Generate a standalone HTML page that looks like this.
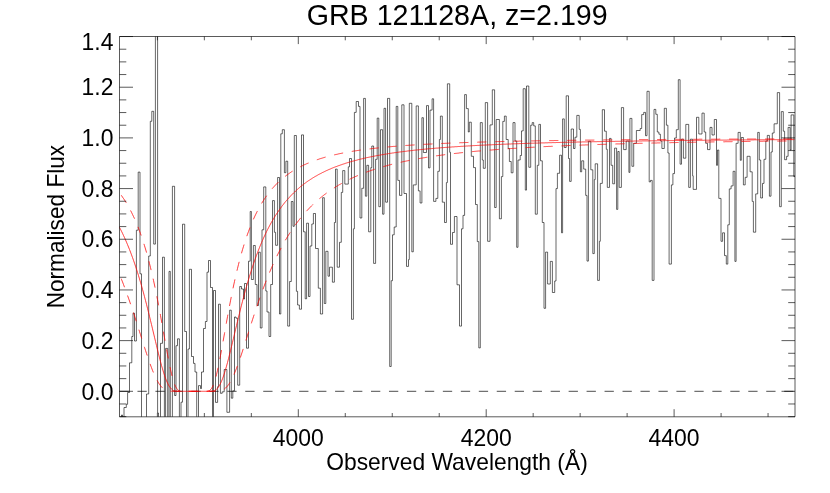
<!DOCTYPE html><html><head><meta charset="utf-8"><title>GRB 121128A</title>
<style>html,body{margin:0;padding:0;background:#fff}svg{display:block;will-change:transform}text{font-family:"Liberation Sans",sans-serif;fill:#000}</style>
</head><body><svg width="830" height="493" viewBox="0 0 830 493">
<rect width="830" height="493" fill="#fff"/>
<defs><clipPath id="c"><rect x="119.5" y="36.5" width="675.5" height="380.3"/></clipPath></defs>
<path d="M119.50 430.00H121.50V415.00H122.50V430.00H124.00V407.50H126.30V404.30H127.60V392.50H129.50V362.80H131.80V336.50H133.00V313.20H134.50V341.00H136.40V230.20H138.20V172.10H140.00V273.80H141.50V430.00H146.50V394.00H148.70V256.00H150.30V121.30H151.80V111.30H153.70V244.10H155.40V20.00H157.60V413.00H158.50V430.00H160.50V343.30H162.50V257.20H164.40V430.00H165.60V348.40H167.70V430.00H169.00V271.40H170.30V430.00H172.40V186.30H174.60V395.50H176.00V345.70H177.50V338.80H179.40V430.00H181.00V402.20H182.50V224.20H184.70V331.50H186.50V430.00H188.00V349.00H189.40V269.30H191.50V356.50H193.50V363.40H195.00V372.00H196.70V430.00H198.50V385.60H200.50V388.50H201.50V372.00H203.50V328.50H205.40V321.50H207.00V272.20H208.50V260.50H210.50V287.50H212.50V430.00H213.50V290.50H215.50V402.40H217.60V386.70H218.50V304.20H220.40V393.30H222.20V391.80H224.20V369.50H226.90V412.30H229.60V310.20H231.30V398.20H232.80V390.80H234.50V317.00H236.00V318.20H237.70V385.20H239.70V286.50H241.50V289.00H243.50V299.00H244.50V283.50H246.50V348.20H248.50V261.20H250.20V211.50H251.40V279.50H253.40V245.50H255.30V284.50H257.00V305.50H258.50V252.20H260.30V328.00H262.00V229.80H263.70V186.90H265.80V291.00H267.00V312.00H269.00V336.50H270.70V284.50H272.50V200.60H274.40V232.30H275.60V245.30H277.60V177.50H279.50V314.00H280.80V133.80H282.30V129.70H284.40V172.70H285.90V161.20H287.70V326.10H289.60V281.50H291.30V201.50H293.00V226.30H294.30V135.50H296.40V291.30H297.60V305.00H299.40V309.20H301.50V134.90H303.50V231.80H305.20V298.80H306.60V223.20H308.50V296.50H310.00V246.00H311.80V224.00H313.40V213.50H315.50V248.50H318.30V288.20H320.40V314.00H322.60V197.70H324.30V303.50H325.80V251.30H328.00V276.20H329.50V267.20H332.40V282.20H334.40V222.50H335.50V169.10H337.20V267.20H339.50V242.30H341.30V192.40H342.70V170.60H344.80V184.10H348.30V166.80H349.50V158.50H351.50V319.30H353.40V228.80H354.40V112.40H356.20V101.50H358.50V106.40H360.00V218.00H361.80V188.30H363.60V98.40H365.40V196.20H366.80V165.30H368.60V231.80H370.80V167.60H371.80V146.00H373.60V263.40H375.60V159.30H377.20V118.10H378.80V206.70H380.50V129.70H382.60V214.20H384.00V108.30H385.60V202.20H387.50V98.40H389.70V366.50H391.20V280.70H392.50V234.80H394.20V227.00H396.20V106.40H397.80V180.40H399.50V195.40H401.80V104.80H404.00V193.50H406.50V266.40H408.50V259.60H409.30V103.30H411.80V251.80H413.30V184.90H416.20V105.90H418.40V190.90H420.10V203.00H421.90V117.70H423.40V152.50H426.50V105.60H428.50V167.90H430.00V110.10H432.10V98.80H433.60V201.40H435.90V198.40H437.80V171.30H439.40V139.50H440.40V116.10H442.30V202.20H444.50V222.50H446.40V182.60H447.40V83.80H449.70V152.30H450.50V244.30H452.50V232.50H454.40V216.50H457.00V284.80H459.50V326.10H461.50V228.80H463.00V215.40H464.60V94.60H466.40V108.60H468.30V132.00H469.30V122.20H471.30V156.30H473.50V167.60H475.50V204.50H477.30V241.60H478.80V347.90H480.30V122.60H482.30V160.00H483.30V168.30H485.30V102.60H487.60V241.30H490.00V124.90H492.30V89.80H494.60V207.50H496.20V119.50H499.40V218.80H501.40V176.60H502.80V121.40H504.40V116.10H506.20V139.50H508.20V148.50H509.40V161.50H511.20V172.80H513.00V122.60H515.00V141.00H516.70V247.30H518.00V160.00H520.20V155.50H521.50V130.90H523.20V88.70H525.30V190.10H526.50V86.00H528.80V167.30H530.70V125.20H532.20V122.60H533.70V125.90H535.30V214.20H537.30V165.30H538.80V124.40H540.50V160.80H542.30V222.50H544.00V308.30H545.60V252.10H547.60V284.00H550.30V261.40H552.40V292.50H554.70V281.00H556.00V188.60H557.40V173.30H559.60V155.20H561.50V232.80H562.60V118.90H564.30V147.50H566.20V95.80H568.50V158.50H569.60V181.40H571.20V129.00H573.50V148.50H575.00V137.20H576.80V115.40H579.20V129.40H580.40V171.80H581.70V160.80H583.70V169.10H585.70V195.40H587.00V261.10H588.40V141.30H590.80V169.80H592.80V253.60H594.30V179.60H595.20V163.80H597.60V280.40H599.40V241.30H600.30V183.40H602.30V109.70H604.50V131.20H606.30V149.30H607.30V187.40H609.50V138.40H611.10V165.30H612.70V183.80H614.60V148.10H616.60V209.40H617.80V151.50H619.20V187.40H621.40V107.60H623.60V149.60H626.20V141.00H628.90V172.40H629.90V118.40H631.90V166.30H633.70V143.30H636.40V130.50H640.20V128.50H641.70V114.60H643.70V112.40H645.50V135.70H647.00V91.30H649.20V181.90H650.50V180.40H652.20V280.40H654.00V109.40H655.80V114.30H657.30V132.00H658.90V134.20H660.40V141.00H661.90V148.50H664.30V108.30H666.40V125.20H667.90V153.00H669.10V264.10H671.40V184.90H672.90V173.60H674.50V138.00H676.30V129.70H678.30V79.70H680.10V164.20H681.50V139.20H683.40V158.20H685.80V124.40H688.70V187.40H690.40V139.20H692.60V175.80H693.20V189.40H696.50V117.30H698.80V134.00H702.00V113.10H704.20V132.00H705.70V143.30H707.50V149.60H710.00V127.40H712.00V135.00H714.30V119.50H716.50V165.30H717.50V150.00H718.80V198.40H721.00V241.30H722.60V232.80H724.50V255.60H726.30V264.10H727.80V224.80H729.30V188.90H731.10V185.90H733.10V171.30H734.90V261.40H736.10V143.30H738.10V132.40H740.30V160.30H741.30V137.50H743.40V184.90H745.20V177.30H747.10V156.30H750.10V171.80H752.20V201.40H753.40V232.20H755.70V193.90H757.70V132.40H759.30V160.00H760.70V198.00H762.50V183.40H764.00V159.30H765.80V141.00H767.30V135.40H769.40V196.20H771.00V152.00H772.30V133.00H774.10V123.80H777.30V92.60H779.60V206.70H781.30V111.60H783.30V131.20H784.60V159.70H786.60V156.30H788.10V127.40H790.10V150.00H791.10V114.90H793.80V176.60H795.00V176.60H795.0" fill="none" stroke="#000" stroke-width="0.6" clip-path="url(#c)" stroke-linejoin="miter"/>
<path d="M119.5 391.30H795.0" stroke="#000" stroke-width="0.7" stroke-dasharray="9.3 8.665" fill="none"/>
<path d="M119.5 227.4 L120.5 229.3 L121.5 231.3 L122.5 233.3 L123.5 235.5 L124.5 237.6 L125.5 239.9 L126.5 242.2 L127.5 244.6 L128.5 247.0 L129.5 249.5 L130.5 252.1 L131.5 254.8 L132.5 257.5 L133.5 260.3 L134.5 263.2 L135.5 266.2 L136.5 269.2 L137.5 272.4 L138.5 275.6 L139.5 278.9 L140.5 282.3 L141.5 285.7 L142.5 289.3 L143.5 292.9 L144.5 296.7 L145.5 300.5 L146.5 304.3 L147.5 308.3 L148.5 312.3 L149.5 316.3 L150.5 320.5 L151.5 324.6 L152.5 328.8 L153.5 333.0 L154.5 337.2 L155.5 341.4 L156.5 345.6 L157.5 349.8 L158.5 353.8 L159.5 357.8 L160.5 361.7 L161.5 365.4 L162.5 368.9 L163.5 372.2 L164.5 375.3 L165.5 378.2 L166.5 380.8 L167.5 383.0 L168.5 385.0 L169.5 386.7 L170.5 388.0 L171.5 389.1 L172.5 389.9 L173.5 390.5 L174.5 390.8 L175.5 391.1 L176.5 391.2 L177.5 391.3 L178.5 391.3 L179.5 391.3 L180.5 391.3 L181.5 391.3 L182.5 391.3 L183.5 391.3 L184.5 391.3 L185.5 391.3 L186.5 391.3 L187.5 391.3 L188.5 391.3 L189.5 391.3 L190.5 391.3 L191.5 391.3 L192.5 391.3 L193.5 391.3 L194.5 391.3 L195.5 391.3 L196.5 391.3 L197.5 391.3 L198.5 391.3 L199.5 391.3 L200.5 391.3 L201.5 391.3 L202.5 391.3 L203.5 391.3 L204.5 391.3 L205.5 391.3 L206.5 391.3 L207.5 391.3 L208.5 391.3 L209.5 391.3 L210.5 391.3 L211.5 391.2 L212.5 391.1 L213.5 390.9 L214.5 390.6 L215.5 390.0 L216.5 389.3 L217.5 388.3 L218.5 387.0 L219.5 385.4 L220.5 383.5 L221.5 381.3 L222.5 378.8 L223.5 376.0 L224.5 372.9 L225.5 369.6 L226.5 366.2 L227.5 362.5 L228.5 358.7 L229.5 354.7 L230.5 350.7 L231.5 346.5 L232.5 342.4 L233.5 338.2 L234.5 333.9 L235.5 329.7 L236.5 325.5 L237.5 321.4 L238.5 317.2 L239.5 313.2 L240.5 309.1 L241.5 305.2 L242.5 301.3 L243.5 297.5 L244.5 293.7 L245.5 290.1 L246.5 286.5 L247.5 283.0 L248.5 279.6 L249.5 276.3 L250.5 273.1 L251.5 269.9 L252.5 266.8 L253.5 263.8 L254.5 260.9 L255.5 258.1 L256.5 255.3 L257.5 252.7 L258.5 250.1 L259.5 247.5 L260.5 245.1 L261.5 242.7 L262.5 240.4 L263.5 238.1 L264.5 235.9 L265.5 233.8 L266.5 231.7 L267.5 229.7 L268.5 227.8 L269.5 225.9 L270.5 224.0 L271.5 222.2 L272.5 220.5 L273.5 218.8 L274.5 217.1 L275.5 215.5 L276.5 214.0 L277.5 212.5 L278.5 211.0 L279.5 209.6 L280.5 208.2 L281.5 206.8 L282.5 205.5 L283.5 204.2 L284.5 202.9 L285.5 201.7 L286.5 200.5 L287.5 199.4 L288.5 198.3 L289.5 197.2 L290.5 196.1 L291.5 195.0 L292.5 194.0 L293.5 193.0 L294.5 192.1 L295.5 191.1 L296.5 190.2 L297.5 189.3 L298.5 188.4 L299.5 187.6 L300.5 186.7 L301.5 185.9 L302.5 185.1 L303.5 184.4 L304.5 183.6 L305.5 182.9 L306.5 182.1 L307.5 181.4 L308.5 180.7 L309.5 180.1 L310.5 179.4 L311.5 178.8 L312.5 178.1 L313.5 177.5 L314.5 176.9 L315.5 176.3 L316.5 175.8 L317.5 175.2 L318.5 174.6 L319.5 174.1 L320.5 173.6 L321.5 173.1 L322.5 172.5 L323.5 172.1 L324.5 171.6 L325.5 171.1 L326.5 170.6 L327.5 170.2 L328.5 169.7 L329.5 169.3 L330.5 168.9 L331.5 168.4 L332.5 168.0 L333.5 167.6 L334.5 167.2 L335.5 166.8 L336.5 166.5 L337.5 166.1 L338.5 165.7 L339.5 165.4 L340.5 165.0 L341.5 164.7 L342.5 164.3 L343.5 164.0 L344.5 163.7 L345.5 163.3 L346.5 163.0 L347.5 162.7 L348.5 162.4 L349.5 162.1 L350.5 161.8 L351.5 161.5 L352.5 161.2 L353.5 161.0 L354.5 160.7 L355.5 160.4 L356.5 160.2 L357.5 159.9 L358.5 159.6 L359.5 159.4 L360.5 159.1 L361.5 158.9 L362.5 158.7 L363.5 158.4 L364.5 158.2 L365.5 158.0 L366.5 157.7 L367.5 157.5 L368.5 157.3 L369.5 157.1 L370.5 156.9 L371.5 156.7 L372.5 156.5 L373.5 156.3 L374.5 156.1 L375.5 155.9 L376.5 155.7 L377.5 155.5 L378.5 155.3 L379.5 155.2 L380.5 155.0 L381.5 154.8 L382.5 154.6 L383.5 154.5 L384.5 154.3 L385.5 154.1 L386.5 154.0 L387.5 153.8 L388.5 153.6 L389.5 153.5 L390.5 153.3 L391.5 153.2 L392.5 153.0 L393.5 152.9 L394.5 152.7 L395.5 152.6 L396.5 152.5 L397.5 152.3 L398.5 152.2 L399.5 152.0 L400.5 151.9 L401.5 151.8 L402.5 151.7 L403.5 151.5 L404.5 151.4 L405.5 151.3 L406.5 151.2 L407.5 151.0 L408.5 150.9 L409.5 150.8 L410.5 150.7 L411.5 150.6 L412.5 150.5 L413.5 150.3 L414.5 150.2 L415.5 150.1 L416.5 150.0 L417.5 149.9 L418.5 149.8 L419.5 149.7 L420.5 149.6 L421.5 149.5 L422.5 149.4 L423.5 149.3 L424.5 149.2 L425.5 149.1 L426.5 149.0 L427.5 148.9 L428.5 148.8 L429.5 148.7 L430.5 148.7 L431.5 148.6 L432.5 148.5 L433.5 148.4 L434.5 148.3 L435.5 148.2 L436.5 148.1 L437.5 148.1 L438.5 148.0 L439.5 147.9 L440.5 147.8 L441.5 147.7 L442.5 147.7 L443.5 147.6 L444.5 147.5 L445.5 147.4 L446.5 147.4 L447.5 147.3 L448.5 147.2 L449.5 147.1 L450.5 147.1 L451.5 147.0 L452.5 146.9 L453.5 146.9 L454.5 146.8 L455.5 146.7 L456.5 146.7 L457.5 146.6 L458.5 146.5 L459.5 146.5 L460.5 146.4 L461.5 146.3 L462.5 146.3 L463.5 146.2 L464.5 146.2 L465.5 146.1 L466.5 146.0 L467.5 146.0 L468.5 145.9 L469.5 145.9 L470.5 145.8 L471.5 145.8 L472.5 145.7 L473.5 145.6 L474.5 145.6 L475.5 145.5 L476.5 145.5 L477.5 145.4 L478.5 145.4 L479.5 145.3 L480.5 145.3 L481.5 145.2 L482.5 145.2 L483.5 145.1 L484.5 145.1 L485.5 145.0 L486.5 145.0 L487.5 144.9 L488.5 144.9 L489.5 144.8 L490.5 144.8 L491.5 144.8 L492.5 144.7 L493.5 144.7 L494.5 144.6 L495.5 144.6 L496.5 144.5 L497.5 144.5 L498.5 144.4 L499.5 144.4 L500.5 144.4 L501.5 144.3 L502.5 144.3 L503.5 144.2 L504.5 144.2 L505.5 144.2 L506.5 144.1 L507.5 144.1 L508.5 144.0 L509.5 144.0 L510.5 144.0 L511.5 143.9 L512.5 143.9 L513.5 143.8 L514.5 143.8 L515.5 143.8 L516.5 143.7 L517.5 143.7 L518.5 143.7 L519.5 143.6 L520.5 143.6 L521.5 143.6 L522.5 143.5 L523.5 143.5 L524.5 143.5 L525.5 143.4 L526.5 143.4 L527.5 143.4 L528.5 143.3 L529.5 143.3 L530.5 143.3 L531.5 143.2 L532.5 143.2 L533.5 143.2 L534.5 143.1 L535.5 143.1 L536.5 143.1 L537.5 143.1 L538.5 143.0 L539.5 143.0 L540.5 143.0 L541.5 142.9 L542.5 142.9 L543.5 142.9 L544.5 142.9 L545.5 142.8 L546.5 142.8 L547.5 142.8 L548.5 142.7 L549.5 142.7 L550.5 142.7 L551.5 142.7 L552.5 142.6 L553.5 142.6 L554.5 142.6 L555.5 142.6 L556.5 142.5 L557.5 142.5 L558.5 142.5 L559.5 142.5 L560.5 142.4 L561.5 142.4 L562.5 142.4 L563.5 142.4 L564.5 142.3 L565.5 142.3 L566.5 142.3 L567.5 142.3 L568.5 142.2 L569.5 142.2 L570.5 142.2 L571.5 142.2 L572.5 142.2 L573.5 142.1 L574.5 142.1 L575.5 142.1 L576.5 142.1 L577.5 142.0 L578.5 142.0 L579.5 142.0 L580.5 142.0 L581.5 142.0 L582.5 141.9 L583.5 141.9 L584.5 141.9 L585.5 141.9 L586.5 141.9 L587.5 141.8 L588.5 141.8 L589.5 141.8 L590.5 141.8 L591.5 141.8 L592.5 141.7 L593.5 141.7 L594.5 141.7 L595.5 141.7 L596.5 141.7 L597.5 141.6 L598.5 141.6 L599.5 141.6 L600.5 141.6 L601.5 141.6 L602.5 141.6 L603.5 141.5 L604.5 141.5 L605.5 141.5 L606.5 141.5 L607.5 141.5 L608.5 141.5 L609.5 141.4 L610.5 141.4 L611.5 141.4 L612.5 141.4 L613.5 141.4 L614.5 141.4 L615.5 141.3 L616.5 141.3 L617.5 141.3 L618.5 141.3 L619.5 141.3 L620.5 141.3 L621.5 141.2 L622.5 141.2 L623.5 141.2 L624.5 141.2 L625.5 141.2 L626.5 141.2 L627.5 141.1 L628.5 141.1 L629.5 141.1 L630.5 141.1 L631.5 141.1 L632.5 141.1 L633.5 141.1 L634.5 141.0 L635.5 141.0 L636.5 141.0 L637.5 141.0 L638.5 141.0 L639.5 141.0 L640.5 141.0 L641.5 141.0 L642.5 140.9 L643.5 140.9 L644.5 140.9 L645.5 140.9 L646.5 140.9 L647.5 140.9 L648.5 140.9 L649.5 140.8 L650.5 140.8 L651.5 140.8 L652.5 140.8 L653.5 140.8 L654.5 140.8 L655.5 140.8 L656.5 140.8 L657.5 140.7 L658.5 140.7 L659.5 140.7 L660.5 140.7 L661.5 140.7 L662.5 140.7 L663.5 140.7 L664.5 140.7 L665.5 140.6 L666.5 140.6 L667.5 140.6 L668.5 140.6 L669.5 140.6 L670.5 140.6 L671.5 140.6 L672.5 140.6 L673.5 140.6 L674.5 140.5 L675.5 140.5 L676.5 140.5 L677.5 140.5 L678.5 140.5 L679.5 140.5 L680.5 140.5 L681.5 140.5 L682.5 140.5 L683.5 140.5 L684.5 140.4 L685.5 140.4 L686.5 140.4 L687.5 140.4 L688.5 140.4 L689.5 140.4 L690.5 140.4 L691.5 140.4 L692.5 140.4 L693.5 140.4 L694.5 140.3 L695.5 140.3 L696.5 140.3 L697.5 140.3 L698.5 140.3 L699.5 140.3 L700.5 140.3 L701.5 140.3 L702.5 140.3 L703.5 140.3 L704.5 140.2 L705.5 140.2 L706.5 140.2 L707.5 140.2 L708.5 140.2 L709.5 140.2 L710.5 140.2 L711.5 140.2 L712.5 140.2 L713.5 140.2 L714.5 140.2 L715.5 140.1 L716.5 140.1 L717.5 140.1 L718.5 140.1 L719.5 140.1 L720.5 140.1 L721.5 140.1 L722.5 140.1 L723.5 140.1 L724.5 140.1 L725.5 140.1 L726.5 140.1 L727.5 140.0 L728.5 140.0 L729.5 140.0 L730.5 140.0 L731.5 140.0 L732.5 140.0 L733.5 140.0 L734.5 140.0 L735.5 140.0 L736.5 140.0 L737.5 140.0 L738.5 140.0 L739.5 140.0 L740.5 139.9 L741.5 139.9 L742.5 139.9 L743.5 139.9 L744.5 139.9 L745.5 139.9 L746.5 139.9 L747.5 139.9 L748.5 139.9 L749.5 139.9 L750.5 139.9 L751.5 139.9 L752.5 139.9 L753.5 139.9 L754.5 139.8 L755.5 139.8 L756.5 139.8 L757.5 139.8 L758.5 139.8 L759.5 139.8 L760.5 139.8 L761.5 139.8 L762.5 139.8 L763.5 139.8 L764.5 139.8 L765.5 139.8 L766.5 139.8 L767.5 139.8 L768.5 139.8 L769.5 139.7 L770.5 139.7 L771.5 139.7 L772.5 139.7 L773.5 139.7 L774.5 139.7 L775.5 139.7 L776.5 139.7 L777.5 139.7 L778.5 139.7 L779.5 139.7 L780.5 139.7 L781.5 139.7 L782.5 139.7 L783.5 139.7 L784.5 139.7 L785.5 139.7 L786.5 139.6 L787.5 139.6 L788.5 139.6 L789.5 139.6 L790.5 139.6 L791.5 139.6 L792.5 139.6 L793.5 139.6 L794.5 139.6" fill="none" stroke="#ff0000" stroke-width="0.75"/>
<path d="M119.5 192.9 L120.5 194.3 L121.5 195.6 L122.5 197.1 L123.5 198.5 L124.5 200.0 L125.5 201.6 L126.5 203.2 L127.5 204.9 L128.5 206.7 L129.5 208.5 L130.5 210.4 L131.5 212.3 L132.5 214.4 L133.5 216.5 L134.5 218.6 L135.5 220.9 L136.5 223.3 L137.5 225.7 L138.5 228.2 L139.5 230.9 L140.5 233.6 L141.5 236.5 L142.5 239.4 L143.5 242.5 L144.5 245.7 L145.5 249.0 L146.5 252.4 L147.5 256.0 L148.5 259.7 L149.5 263.6 L150.5 267.6 L151.5 271.7 L152.5 276.0 L153.5 280.4 L154.5 285.0 L155.5 289.8 L156.5 294.6 L157.5 299.7 L158.5 304.8 L159.5 310.1 L160.5 315.5 L161.5 321.0 L162.5 326.5 L163.5 332.2 L164.5 337.8 L165.5 343.4 L166.5 348.9 L167.5 354.3 L168.5 359.6 L169.5 364.6 L170.5 369.3 L171.5 373.7 L172.5 377.6 L173.5 381.1 L174.5 384.0 L175.5 386.4 L176.5 388.2 L177.5 389.5 L178.5 390.4 L179.5 390.9 L180.5 391.1 L181.5 391.3 L182.5 391.3 L183.5 391.3 L184.5 391.3 L185.5 391.3 L186.5 391.3 L187.5 391.3 L188.5 391.3 L189.5 391.3 L190.5 391.3 L191.5 391.3 L192.5 391.3 L193.5 391.3 L194.5 391.3 L195.5 391.3 L196.5 391.3 L197.5 391.3 L198.5 391.3 L199.5 391.3 L200.5 391.3 L201.5 391.3 L202.5 391.3 L203.5 391.3 L204.5 391.3 L205.5 391.3 L206.5 391.3 L207.5 391.2 L208.5 390.9 L209.5 390.5 L210.5 389.7 L211.5 388.5 L212.5 386.8 L213.5 384.6 L214.5 381.8 L215.5 378.4 L216.5 374.6 L217.5 370.3 L218.5 365.7 L219.5 360.7 L220.5 355.5 L221.5 350.1 L222.5 344.6 L223.5 339.0 L224.5 333.4 L225.5 327.8 L226.5 322.2 L227.5 316.7 L228.5 311.3 L229.5 306.0 L230.5 300.8 L231.5 295.7 L232.5 290.8 L233.5 286.0 L234.5 281.4 L235.5 277.0 L236.5 272.6 L237.5 268.5 L238.5 264.4 L239.5 260.5 L240.5 256.8 L241.5 253.2 L242.5 249.7 L243.5 246.4 L244.5 243.2 L245.5 240.1 L246.5 237.1 L247.5 234.2 L248.5 231.5 L249.5 228.8 L250.5 226.2 L251.5 223.8 L252.5 221.4 L253.5 219.1 L254.5 216.9 L255.5 214.8 L256.5 212.8 L257.5 210.8 L258.5 208.9 L259.5 207.1 L260.5 205.3 L261.5 203.6 L262.5 202.0 L263.5 200.4 L264.5 198.8 L265.5 197.4 L266.5 195.9 L267.5 194.6 L268.5 193.2 L269.5 191.9 L270.5 190.7 L271.5 189.5 L272.5 188.3 L273.5 187.2 L274.5 186.1 L275.5 185.0 L276.5 184.0 L277.5 183.0 L278.5 182.0 L279.5 181.1 L280.5 180.2 L281.5 179.3 L282.5 178.5 L283.5 177.6 L284.5 176.8 L285.5 176.1 L286.5 175.3 L287.5 174.6 L288.5 173.9 L289.5 173.2 L290.5 172.5 L291.5 171.8 L292.5 171.2 L293.5 170.6 L294.5 170.0 L295.5 169.4 L296.5 168.8 L297.5 168.2 L298.5 167.7 L299.5 167.2 L300.5 166.7 L301.5 166.2 L302.5 165.7 L303.5 165.2 L304.5 164.7 L305.5 164.3 L306.5 163.8 L307.5 163.4 L308.5 163.0 L309.5 162.6 L310.5 162.2 L311.5 161.8 L312.5 161.4 L313.5 161.0 L314.5 160.6 L315.5 160.3 L316.5 159.9 L317.5 159.6 L318.5 159.3 L319.5 158.9 L320.5 158.6 L321.5 158.3 L322.5 158.0 L323.5 157.7 L324.5 157.4 L325.5 157.1 L326.5 156.9 L327.5 156.6 L328.5 156.3 L329.5 156.1 L330.5 155.8 L331.5 155.6 L332.5 155.3 L333.5 155.1 L334.5 154.8 L335.5 154.6 L336.5 154.4 L337.5 154.2 L338.5 153.9 L339.5 153.7 L340.5 153.5 L341.5 153.3 L342.5 153.1 L343.5 152.9 L344.5 152.7 L345.5 152.5 L346.5 152.3 L347.5 152.2 L348.5 152.0 L349.5 151.8 L350.5 151.6 L351.5 151.5 L352.5 151.3 L353.5 151.1 L354.5 151.0 L355.5 150.8 L356.5 150.7 L357.5 150.5 L358.5 150.4 L359.5 150.2 L360.5 150.1 L361.5 149.9 L362.5 149.8 L363.5 149.7 L364.5 149.5 L365.5 149.4 L366.5 149.3 L367.5 149.1 L368.5 149.0 L369.5 148.9 L370.5 148.8 L371.5 148.6 L372.5 148.5 L373.5 148.4 L374.5 148.3 L375.5 148.2 L376.5 148.1 L377.5 148.0 L378.5 147.9 L379.5 147.8 L380.5 147.7 L381.5 147.5 L382.5 147.4 L383.5 147.3 L384.5 147.3 L385.5 147.2 L386.5 147.1 L387.5 147.0 L388.5 146.9 L389.5 146.8 L390.5 146.7 L391.5 146.6 L392.5 146.5 L393.5 146.4 L394.5 146.4 L395.5 146.3 L396.5 146.2 L397.5 146.1 L398.5 146.0 L399.5 146.0 L400.5 145.9 L401.5 145.8 L402.5 145.7 L403.5 145.7 L404.5 145.6 L405.5 145.5 L406.5 145.4 L407.5 145.4 L408.5 145.3 L409.5 145.2 L410.5 145.2 L411.5 145.1 L412.5 145.0 L413.5 145.0 L414.5 144.9 L415.5 144.9 L416.5 144.8 L417.5 144.7 L418.5 144.7 L419.5 144.6 L420.5 144.6 L421.5 144.5 L422.5 144.4 L423.5 144.4 L424.5 144.3 L425.5 144.3 L426.5 144.2 L427.5 144.2 L428.5 144.1 L429.5 144.1 L430.5 144.0 L431.5 144.0 L432.5 143.9 L433.5 143.9 L434.5 143.8 L435.5 143.8 L436.5 143.7 L437.5 143.7 L438.5 143.6 L439.5 143.6 L440.5 143.5 L441.5 143.5 L442.5 143.4 L443.5 143.4 L444.5 143.4 L445.5 143.3 L446.5 143.3 L447.5 143.2 L448.5 143.2 L449.5 143.1 L450.5 143.1 L451.5 143.1 L452.5 143.0 L453.5 143.0 L454.5 142.9 L455.5 142.9 L456.5 142.9 L457.5 142.8 L458.5 142.8 L459.5 142.8 L460.5 142.7 L461.5 142.7 L462.5 142.7 L463.5 142.6 L464.5 142.6 L465.5 142.5 L466.5 142.5 L467.5 142.5 L468.5 142.4 L469.5 142.4 L470.5 142.4 L471.5 142.3 L472.5 142.3 L473.5 142.3 L474.5 142.3 L475.5 142.2 L476.5 142.2 L477.5 142.2 L478.5 142.1 L479.5 142.1 L480.5 142.1 L481.5 142.0 L482.5 142.0 L483.5 142.0 L484.5 142.0 L485.5 141.9 L486.5 141.9 L487.5 141.9 L488.5 141.9 L489.5 141.8 L490.5 141.8 L491.5 141.8 L492.5 141.8 L493.5 141.7 L494.5 141.7 L495.5 141.7 L496.5 141.6 L497.5 141.6 L498.5 141.6 L499.5 141.6 L500.5 141.6 L501.5 141.5 L502.5 141.5 L503.5 141.5 L504.5 141.5 L505.5 141.4 L506.5 141.4 L507.5 141.4 L508.5 141.4 L509.5 141.3 L510.5 141.3 L511.5 141.3 L512.5 141.3 L513.5 141.3 L514.5 141.2 L515.5 141.2 L516.5 141.2 L517.5 141.2 L518.5 141.2 L519.5 141.1 L520.5 141.1 L521.5 141.1 L522.5 141.1 L523.5 141.1 L524.5 141.0 L525.5 141.0 L526.5 141.0 L527.5 141.0 L528.5 141.0 L529.5 141.0 L530.5 140.9 L531.5 140.9 L532.5 140.9 L533.5 140.9 L534.5 140.9 L535.5 140.8 L536.5 140.8 L537.5 140.8 L538.5 140.8 L539.5 140.8 L540.5 140.8 L541.5 140.7 L542.5 140.7 L543.5 140.7 L544.5 140.7 L545.5 140.7 L546.5 140.7 L547.5 140.7 L548.5 140.6 L549.5 140.6 L550.5 140.6 L551.5 140.6 L552.5 140.6 L553.5 140.6 L554.5 140.5 L555.5 140.5 L556.5 140.5 L557.5 140.5 L558.5 140.5 L559.5 140.5 L560.5 140.5 L561.5 140.4 L562.5 140.4 L563.5 140.4 L564.5 140.4 L565.5 140.4 L566.5 140.4 L567.5 140.4 L568.5 140.4 L569.5 140.3 L570.5 140.3 L571.5 140.3 L572.5 140.3 L573.5 140.3 L574.5 140.3 L575.5 140.3 L576.5 140.3 L577.5 140.2 L578.5 140.2 L579.5 140.2 L580.5 140.2 L581.5 140.2 L582.5 140.2 L583.5 140.2 L584.5 140.2 L585.5 140.1 L586.5 140.1 L587.5 140.1 L588.5 140.1 L589.5 140.1 L590.5 140.1 L591.5 140.1 L592.5 140.1 L593.5 140.1 L594.5 140.0 L595.5 140.0 L596.5 140.0 L597.5 140.0 L598.5 140.0 L599.5 140.0 L600.5 140.0 L601.5 140.0 L602.5 140.0 L603.5 140.0 L604.5 139.9 L605.5 139.9 L606.5 139.9 L607.5 139.9 L608.5 139.9 L609.5 139.9 L610.5 139.9 L611.5 139.9 L612.5 139.9 L613.5 139.9 L614.5 139.8 L615.5 139.8 L616.5 139.8 L617.5 139.8 L618.5 139.8 L619.5 139.8 L620.5 139.8 L621.5 139.8 L622.5 139.8 L623.5 139.8 L624.5 139.8 L625.5 139.7 L626.5 139.7 L627.5 139.7 L628.5 139.7 L629.5 139.7 L630.5 139.7 L631.5 139.7 L632.5 139.7 L633.5 139.7 L634.5 139.7 L635.5 139.7 L636.5 139.7 L637.5 139.7 L638.5 139.6 L639.5 139.6 L640.5 139.6 L641.5 139.6 L642.5 139.6 L643.5 139.6 L644.5 139.6 L645.5 139.6 L646.5 139.6 L647.5 139.6 L648.5 139.6 L649.5 139.6 L650.5 139.6 L651.5 139.5 L652.5 139.5 L653.5 139.5 L654.5 139.5 L655.5 139.5 L656.5 139.5 L657.5 139.5 L658.5 139.5 L659.5 139.5 L660.5 139.5 L661.5 139.5 L662.5 139.5 L663.5 139.5 L664.5 139.5 L665.5 139.4 L666.5 139.4 L667.5 139.4 L668.5 139.4 L669.5 139.4 L670.5 139.4 L671.5 139.4 L672.5 139.4 L673.5 139.4 L674.5 139.4 L675.5 139.4 L676.5 139.4 L677.5 139.4 L678.5 139.4 L679.5 139.4 L680.5 139.4 L681.5 139.4 L682.5 139.3 L683.5 139.3 L684.5 139.3 L685.5 139.3 L686.5 139.3 L687.5 139.3 L688.5 139.3 L689.5 139.3 L690.5 139.3 L691.5 139.3 L692.5 139.3 L693.5 139.3 L694.5 139.3 L695.5 139.3 L696.5 139.3 L697.5 139.3 L698.5 139.3 L699.5 139.2 L700.5 139.2 L701.5 139.2 L702.5 139.2 L703.5 139.2 L704.5 139.2 L705.5 139.2 L706.5 139.2 L707.5 139.2 L708.5 139.2 L709.5 139.2 L710.5 139.2 L711.5 139.2 L712.5 139.2 L713.5 139.2 L714.5 139.2 L715.5 139.2 L716.5 139.2 L717.5 139.2 L718.5 139.2 L719.5 139.1 L720.5 139.1 L721.5 139.1 L722.5 139.1 L723.5 139.1 L724.5 139.1 L725.5 139.1 L726.5 139.1 L727.5 139.1 L728.5 139.1 L729.5 139.1 L730.5 139.1 L731.5 139.1 L732.5 139.1 L733.5 139.1 L734.5 139.1 L735.5 139.1 L736.5 139.1 L737.5 139.1 L738.5 139.1 L739.5 139.1 L740.5 139.1 L741.5 139.1 L742.5 139.0 L743.5 139.0 L744.5 139.0 L745.5 139.0 L746.5 139.0 L747.5 139.0 L748.5 139.0 L749.5 139.0 L750.5 139.0 L751.5 139.0 L752.5 139.0 L753.5 139.0 L754.5 139.0 L755.5 139.0 L756.5 139.0 L757.5 139.0 L758.5 139.0 L759.5 139.0 L760.5 139.0 L761.5 139.0 L762.5 139.0 L763.5 139.0 L764.5 139.0 L765.5 139.0 L766.5 139.0 L767.5 138.9 L768.5 138.9 L769.5 138.9 L770.5 138.9 L771.5 138.9 L772.5 138.9 L773.5 138.9 L774.5 138.9 L775.5 138.9 L776.5 138.9 L777.5 138.9 L778.5 138.9 L779.5 138.9 L780.5 138.9 L781.5 138.9 L782.5 138.9 L783.5 138.9 L784.5 138.9 L785.5 138.9 L786.5 138.9 L787.5 138.9 L788.5 138.9 L789.5 138.9 L790.5 138.9 L791.5 138.9 L792.5 138.9 L793.5 138.9 L794.5 138.9" fill="none" stroke="#ff0000" stroke-width="0.75" stroke-dasharray="9.2 8.8" stroke-dashoffset="15.2"/>
<path d="M119.5 274.5 L120.5 276.9 L121.5 279.4 L122.5 281.9 L123.5 284.5 L124.5 287.2 L125.5 289.9 L126.5 292.6 L127.5 295.4 L128.5 298.2 L129.5 301.0 L130.5 304.0 L131.5 306.9 L132.5 309.9 L133.5 312.9 L134.5 315.9 L135.5 319.0 L136.5 322.1 L137.5 325.3 L138.5 328.4 L139.5 331.6 L140.5 334.7 L141.5 337.9 L142.5 341.0 L143.5 344.2 L144.5 347.3 L145.5 350.4 L146.5 353.4 L147.5 356.4 L148.5 359.4 L149.5 362.2 L150.5 365.0 L151.5 367.7 L152.5 370.3 L153.5 372.7 L154.5 375.0 L155.5 377.2 L156.5 379.3 L157.5 381.1 L158.5 382.8 L159.5 384.4 L160.5 385.7 L161.5 386.9 L162.5 387.9 L163.5 388.8 L164.5 389.4 L165.5 390.0 L166.5 390.4 L167.5 390.7 L168.5 390.9 L169.5 391.1 L170.5 391.2 L171.5 391.2 L172.5 391.3 L173.5 391.3 L174.5 391.3 L175.5 391.3 L176.5 391.3 L177.5 391.3 L178.5 391.3 L179.5 391.3 L180.5 391.3 L181.5 391.3 L182.5 391.3 L183.5 391.3 L184.5 391.3 L185.5 391.3 L186.5 391.3 L187.5 391.3 L188.5 391.3 L189.5 391.3 L190.5 391.3 L191.5 391.3 L192.5 391.3 L193.5 391.3 L194.5 391.3 L195.5 391.3 L196.5 391.3 L197.5 391.3 L198.5 391.3 L199.5 391.3 L200.5 391.3 L201.5 391.3 L202.5 391.3 L203.5 391.3 L204.5 391.3 L205.5 391.3 L206.5 391.3 L207.5 391.3 L208.5 391.3 L209.5 391.3 L210.5 391.3 L211.5 391.3 L212.5 391.3 L213.5 391.3 L214.5 391.3 L215.5 391.3 L216.5 391.3 L217.5 391.2 L218.5 391.1 L219.5 391.0 L220.5 390.8 L221.5 390.5 L222.5 390.1 L223.5 389.6 L224.5 388.9 L225.5 388.1 L226.5 387.1 L227.5 386.0 L228.5 384.7 L229.5 383.2 L230.5 381.5 L231.5 379.7 L232.5 377.7 L233.5 375.5 L234.5 373.2 L235.5 370.8 L236.5 368.3 L237.5 365.6 L238.5 362.9 L239.5 360.0 L240.5 357.1 L241.5 354.1 L242.5 351.1 L243.5 348.0 L244.5 344.9 L245.5 341.7 L246.5 338.6 L247.5 335.4 L248.5 332.3 L249.5 329.1 L250.5 326.0 L251.5 322.8 L252.5 319.7 L253.5 316.6 L254.5 313.6 L255.5 310.5 L256.5 307.5 L257.5 304.6 L258.5 301.7 L259.5 298.8 L260.5 296.0 L261.5 293.2 L262.5 290.5 L263.5 287.8 L264.5 285.1 L265.5 282.5 L266.5 280.0 L267.5 277.5 L268.5 275.0 L269.5 272.6 L270.5 270.2 L271.5 267.9 L272.5 265.6 L273.5 263.4 L274.5 261.2 L275.5 259.1 L276.5 257.0 L277.5 254.9 L278.5 252.9 L279.5 251.0 L280.5 249.1 L281.5 247.2 L282.5 245.3 L283.5 243.5 L284.5 241.8 L285.5 240.0 L286.5 238.4 L287.5 236.7 L288.5 235.1 L289.5 233.5 L290.5 231.9 L291.5 230.4 L292.5 228.9 L293.5 227.5 L294.5 226.1 L295.5 224.7 L296.5 223.3 L297.5 222.0 L298.5 220.7 L299.5 219.4 L300.5 218.1 L301.5 216.9 L302.5 215.7 L303.5 214.5 L304.5 213.4 L305.5 212.3 L306.5 211.1 L307.5 210.1 L308.5 209.0 L309.5 208.0 L310.5 206.9 L311.5 205.9 L312.5 205.0 L313.5 204.0 L314.5 203.1 L315.5 202.2 L316.5 201.3 L317.5 200.4 L318.5 199.5 L319.5 198.6 L320.5 197.8 L321.5 197.0 L322.5 196.2 L323.5 195.4 L324.5 194.6 L325.5 193.9 L326.5 193.1 L327.5 192.4 L328.5 191.7 L329.5 191.0 L330.5 190.3 L331.5 189.6 L332.5 189.0 L333.5 188.3 L334.5 187.7 L335.5 187.0 L336.5 186.4 L337.5 185.8 L338.5 185.2 L339.5 184.6 L340.5 184.1 L341.5 183.5 L342.5 182.9 L343.5 182.4 L344.5 181.9 L345.5 181.3 L346.5 180.8 L347.5 180.3 L348.5 179.8 L349.5 179.3 L350.5 178.8 L351.5 178.4 L352.5 177.9 L353.5 177.4 L354.5 177.0 L355.5 176.5 L356.5 176.1 L357.5 175.7 L358.5 175.3 L359.5 174.8 L360.5 174.4 L361.5 174.0 L362.5 173.6 L363.5 173.2 L364.5 172.9 L365.5 172.5 L366.5 172.1 L367.5 171.7 L368.5 171.4 L369.5 171.0 L370.5 170.7 L371.5 170.3 L372.5 170.0 L373.5 169.7 L374.5 169.3 L375.5 169.0 L376.5 168.7 L377.5 168.4 L378.5 168.1 L379.5 167.8 L380.5 167.5 L381.5 167.2 L382.5 166.9 L383.5 166.6 L384.5 166.3 L385.5 166.0 L386.5 165.8 L387.5 165.5 L388.5 165.2 L389.5 164.9 L390.5 164.7 L391.5 164.4 L392.5 164.2 L393.5 163.9 L394.5 163.7 L395.5 163.4 L396.5 163.2 L397.5 163.0 L398.5 162.7 L399.5 162.5 L400.5 162.3 L401.5 162.1 L402.5 161.8 L403.5 161.6 L404.5 161.4 L405.5 161.2 L406.5 161.0 L407.5 160.8 L408.5 160.6 L409.5 160.4 L410.5 160.2 L411.5 160.0 L412.5 159.8 L413.5 159.6 L414.5 159.4 L415.5 159.2 L416.5 159.0 L417.5 158.9 L418.5 158.7 L419.5 158.5 L420.5 158.3 L421.5 158.2 L422.5 158.0 L423.5 157.8 L424.5 157.7 L425.5 157.5 L426.5 157.3 L427.5 157.2 L428.5 157.0 L429.5 156.9 L430.5 156.7 L431.5 156.6 L432.5 156.4 L433.5 156.3 L434.5 156.1 L435.5 156.0 L436.5 155.8 L437.5 155.7 L438.5 155.5 L439.5 155.4 L440.5 155.3 L441.5 155.1 L442.5 155.0 L443.5 154.9 L444.5 154.7 L445.5 154.6 L446.5 154.5 L447.5 154.3 L448.5 154.2 L449.5 154.1 L450.5 154.0 L451.5 153.9 L452.5 153.7 L453.5 153.6 L454.5 153.5 L455.5 153.4 L456.5 153.3 L457.5 153.2 L458.5 153.1 L459.5 152.9 L460.5 152.8 L461.5 152.7 L462.5 152.6 L463.5 152.5 L464.5 152.4 L465.5 152.3 L466.5 152.2 L467.5 152.1 L468.5 152.0 L469.5 151.9 L470.5 151.8 L471.5 151.7 L472.5 151.6 L473.5 151.5 L474.5 151.4 L475.5 151.3 L476.5 151.2 L477.5 151.1 L478.5 151.0 L479.5 151.0 L480.5 150.9 L481.5 150.8 L482.5 150.7 L483.5 150.6 L484.5 150.5 L485.5 150.4 L486.5 150.4 L487.5 150.3 L488.5 150.2 L489.5 150.1 L490.5 150.0 L491.5 150.0 L492.5 149.9 L493.5 149.8 L494.5 149.7 L495.5 149.6 L496.5 149.6 L497.5 149.5 L498.5 149.4 L499.5 149.3 L500.5 149.3 L501.5 149.2 L502.5 149.1 L503.5 149.1 L504.5 149.0 L505.5 148.9 L506.5 148.8 L507.5 148.8 L508.5 148.7 L509.5 148.6 L510.5 148.6 L511.5 148.5 L512.5 148.4 L513.5 148.4 L514.5 148.3 L515.5 148.3 L516.5 148.2 L517.5 148.1 L518.5 148.1 L519.5 148.0 L520.5 147.9 L521.5 147.9 L522.5 147.8 L523.5 147.8 L524.5 147.7 L525.5 147.7 L526.5 147.6 L527.5 147.5 L528.5 147.5 L529.5 147.4 L530.5 147.4 L531.5 147.3 L532.5 147.3 L533.5 147.2 L534.5 147.2 L535.5 147.1 L536.5 147.0 L537.5 147.0 L538.5 146.9 L539.5 146.9 L540.5 146.8 L541.5 146.8 L542.5 146.7 L543.5 146.7 L544.5 146.6 L545.5 146.6 L546.5 146.5 L547.5 146.5 L548.5 146.4 L549.5 146.4 L550.5 146.4 L551.5 146.3 L552.5 146.3 L553.5 146.2 L554.5 146.2 L555.5 146.1 L556.5 146.1 L557.5 146.0 L558.5 146.0 L559.5 145.9 L560.5 145.9 L561.5 145.9 L562.5 145.8 L563.5 145.8 L564.5 145.7 L565.5 145.7 L566.5 145.7 L567.5 145.6 L568.5 145.6 L569.5 145.5 L570.5 145.5 L571.5 145.5 L572.5 145.4 L573.5 145.4 L574.5 145.3 L575.5 145.3 L576.5 145.3 L577.5 145.2 L578.5 145.2 L579.5 145.1 L580.5 145.1 L581.5 145.1 L582.5 145.0 L583.5 145.0 L584.5 145.0 L585.5 144.9 L586.5 144.9 L587.5 144.9 L588.5 144.8 L589.5 144.8 L590.5 144.8 L591.5 144.7 L592.5 144.7 L593.5 144.7 L594.5 144.6 L595.5 144.6 L596.5 144.6 L597.5 144.5 L598.5 144.5 L599.5 144.5 L600.5 144.4 L601.5 144.4 L602.5 144.4 L603.5 144.3 L604.5 144.3 L605.5 144.3 L606.5 144.2 L607.5 144.2 L608.5 144.2 L609.5 144.2 L610.5 144.1 L611.5 144.1 L612.5 144.1 L613.5 144.0 L614.5 144.0 L615.5 144.0 L616.5 143.9 L617.5 143.9 L618.5 143.9 L619.5 143.9 L620.5 143.8 L621.5 143.8 L622.5 143.8 L623.5 143.8 L624.5 143.7 L625.5 143.7 L626.5 143.7 L627.5 143.6 L628.5 143.6 L629.5 143.6 L630.5 143.6 L631.5 143.5 L632.5 143.5 L633.5 143.5 L634.5 143.5 L635.5 143.4 L636.5 143.4 L637.5 143.4 L638.5 143.4 L639.5 143.3 L640.5 143.3 L641.5 143.3 L642.5 143.3 L643.5 143.3 L644.5 143.2 L645.5 143.2 L646.5 143.2 L647.5 143.2 L648.5 143.1 L649.5 143.1 L650.5 143.1 L651.5 143.1 L652.5 143.0 L653.5 143.0 L654.5 143.0 L655.5 143.0 L656.5 143.0 L657.5 142.9 L658.5 142.9 L659.5 142.9 L660.5 142.9 L661.5 142.8 L662.5 142.8 L663.5 142.8 L664.5 142.8 L665.5 142.8 L666.5 142.7 L667.5 142.7 L668.5 142.7 L669.5 142.7 L670.5 142.7 L671.5 142.6 L672.5 142.6 L673.5 142.6 L674.5 142.6 L675.5 142.6 L676.5 142.5 L677.5 142.5 L678.5 142.5 L679.5 142.5 L680.5 142.5 L681.5 142.5 L682.5 142.4 L683.5 142.4 L684.5 142.4 L685.5 142.4 L686.5 142.4 L687.5 142.3 L688.5 142.3 L689.5 142.3 L690.5 142.3 L691.5 142.3 L692.5 142.3 L693.5 142.2 L694.5 142.2 L695.5 142.2 L696.5 142.2 L697.5 142.2 L698.5 142.2 L699.5 142.1 L700.5 142.1 L701.5 142.1 L702.5 142.1 L703.5 142.1 L704.5 142.1 L705.5 142.0 L706.5 142.0 L707.5 142.0 L708.5 142.0 L709.5 142.0 L710.5 142.0 L711.5 141.9 L712.5 141.9 L713.5 141.9 L714.5 141.9 L715.5 141.9 L716.5 141.9 L717.5 141.9 L718.5 141.8 L719.5 141.8 L720.5 141.8 L721.5 141.8 L722.5 141.8 L723.5 141.8 L724.5 141.8 L725.5 141.7 L726.5 141.7 L727.5 141.7 L728.5 141.7 L729.5 141.7 L730.5 141.7 L731.5 141.7 L732.5 141.6 L733.5 141.6 L734.5 141.6 L735.5 141.6 L736.5 141.6 L737.5 141.6 L738.5 141.6 L739.5 141.5 L740.5 141.5 L741.5 141.5 L742.5 141.5 L743.5 141.5 L744.5 141.5 L745.5 141.5 L746.5 141.5 L747.5 141.4 L748.5 141.4 L749.5 141.4 L750.5 141.4 L751.5 141.4 L752.5 141.4 L753.5 141.4 L754.5 141.4 L755.5 141.3 L756.5 141.3 L757.5 141.3 L758.5 141.3 L759.5 141.3 L760.5 141.3 L761.5 141.3 L762.5 141.3 L763.5 141.2 L764.5 141.2 L765.5 141.2 L766.5 141.2 L767.5 141.2 L768.5 141.2 L769.5 141.2 L770.5 141.2 L771.5 141.2 L772.5 141.1 L773.5 141.1 L774.5 141.1 L775.5 141.1 L776.5 141.1 L777.5 141.1 L778.5 141.1 L779.5 141.1 L780.5 141.1 L781.5 141.0 L782.5 141.0 L783.5 141.0 L784.5 141.0 L785.5 141.0 L786.5 141.0 L787.5 141.0 L788.5 141.0 L789.5 141.0 L790.5 141.0 L791.5 140.9 L792.5 140.9 L793.5 140.9 L794.5 140.9" fill="none" stroke="#ff0000" stroke-width="0.75" stroke-dasharray="9.2 8.8" stroke-dashoffset="13.5"/>
<path d="M119.5 36.5H795.0V416.8H119.5ZM157.38 416.8v-3.8M157.38 36.5v3.8M204.35 416.8v-3.8M204.35 36.5v3.8M251.33 416.8v-3.8M251.33 36.5v3.8M298.30 416.8v-7.6M298.30 36.5v7.6M345.28 416.8v-3.8M345.28 36.5v3.8M392.25 416.8v-3.8M392.25 36.5v3.8M439.23 416.8v-3.8M439.23 36.5v3.8M486.20 416.8v-7.6M486.20 36.5v7.6M533.17 416.8v-3.8M533.17 36.5v3.8M580.15 416.8v-3.8M580.15 36.5v3.8M627.12 416.8v-3.8M627.12 36.5v3.8M674.10 416.8v-7.6M674.10 36.5v7.6M721.08 416.8v-3.8M721.08 36.5v3.8M768.05 416.8v-3.8M768.05 36.5v3.8M119.5 416.64h6.8M795.0 416.64h-6.8M119.5 403.97h6.8M795.0 403.97h-6.8M119.5 391.30h13.5M795.0 391.30h-13.5M119.5 378.63h6.8M795.0 378.63h-6.8M119.5 365.96h6.8M795.0 365.96h-6.8M119.5 353.29h6.8M795.0 353.29h-6.8M119.5 340.62h13.5M795.0 340.62h-13.5M119.5 327.95h6.8M795.0 327.95h-6.8M119.5 315.28h6.8M795.0 315.28h-6.8M119.5 302.61h6.8M795.0 302.61h-6.8M119.5 289.94h13.5M795.0 289.94h-13.5M119.5 277.27h6.8M795.0 277.27h-6.8M119.5 264.60h6.8M795.0 264.60h-6.8M119.5 251.93h6.8M795.0 251.93h-6.8M119.5 239.26h13.5M795.0 239.26h-13.5M119.5 226.59h6.8M795.0 226.59h-6.8M119.5 213.92h6.8M795.0 213.92h-6.8M119.5 201.25h6.8M795.0 201.25h-6.8M119.5 188.58h13.5M795.0 188.58h-13.5M119.5 175.91h6.8M795.0 175.91h-6.8M119.5 163.24h6.8M795.0 163.24h-6.8M119.5 150.57h6.8M795.0 150.57h-6.8M119.5 137.90h13.5M795.0 137.90h-13.5M119.5 125.23h6.8M795.0 125.23h-6.8M119.5 112.56h6.8M795.0 112.56h-6.8M119.5 99.89h6.8M795.0 99.89h-6.8M119.5 87.22h13.5M795.0 87.22h-13.5M119.5 74.55h6.8M795.0 74.55h-6.8M119.5 61.88h6.8M795.0 61.88h-6.8M119.5 49.21h6.8M795.0 49.21h-6.8M119.5 36.54h13.5M795.0 36.54h-13.5" fill="none" stroke="#000" stroke-width="0.65"/>
<text transform="translate(298.30 445.6) scale(0.98 1)" font-size="23.4" text-anchor="middle">4000</text>
<text transform="translate(486.20 445.6) scale(0.98 1)" font-size="23.4" text-anchor="middle">4200</text>
<text transform="translate(674.10 445.6) scale(0.98 1)" font-size="23.4" text-anchor="middle">4400</text>
<text transform="translate(113.4 399.50) scale(0.98 1)" font-size="23.4" text-anchor="end">0.0</text>
<text transform="translate(113.4 348.82) scale(0.98 1)" font-size="23.4" text-anchor="end">0.2</text>
<text transform="translate(113.4 298.14) scale(0.98 1)" font-size="23.4" text-anchor="end">0.4</text>
<text transform="translate(113.4 247.46) scale(0.98 1)" font-size="23.4" text-anchor="end">0.6</text>
<text transform="translate(113.4 196.78) scale(0.98 1)" font-size="23.4" text-anchor="end">0.8</text>
<text transform="translate(113.4 146.10) scale(0.98 1)" font-size="23.4" text-anchor="end">1.0</text>
<text transform="translate(113.4 95.42) scale(0.98 1)" font-size="23.4" text-anchor="end">1.2</text>
<text transform="translate(113.4 50.30) scale(0.98 1)" font-size="23.4" text-anchor="end">1.4</text>
<text x="457.0" y="469.7" font-size="23.4" text-anchor="middle" textLength="261.5" lengthAdjust="spacingAndGlyphs">Observed Wavelength (Å)</text>
<text transform="translate(63.8 226.6) rotate(-90)" font-size="23.4" text-anchor="middle" textLength="163.5" lengthAdjust="spacingAndGlyphs">Normalised Flux</text>
<text x="457.2" y="24.7" font-size="30.2" text-anchor="middle" textLength="301" lengthAdjust="spacingAndGlyphs">GRB 121128A, z=2.199</text>
</svg></body></html>
